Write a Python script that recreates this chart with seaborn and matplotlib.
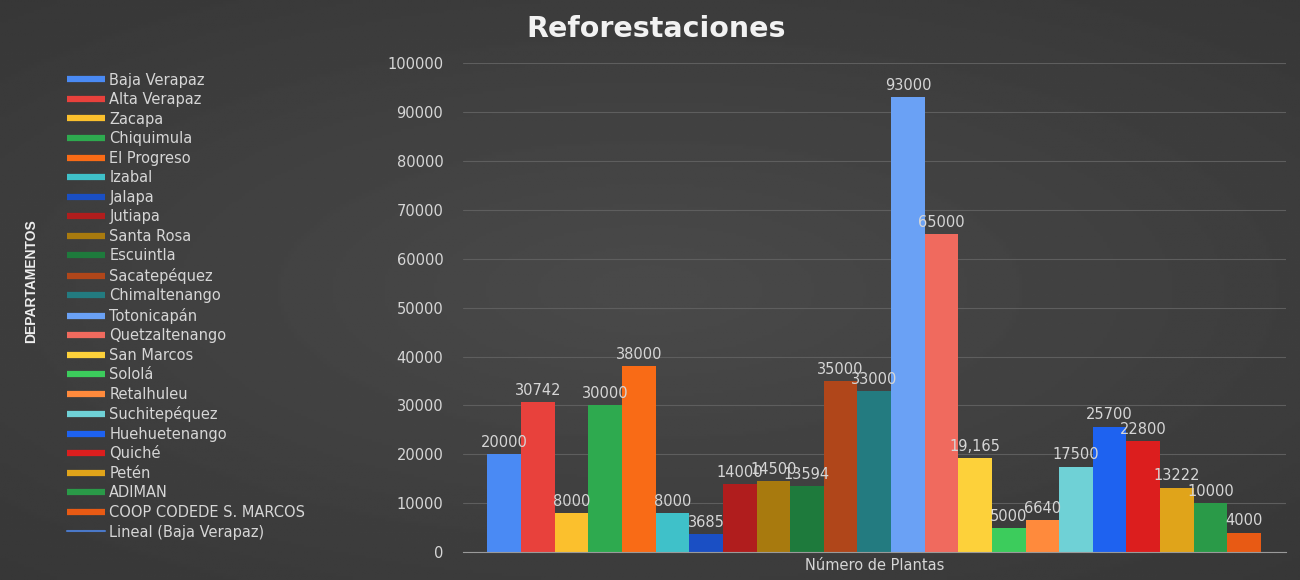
import matplotlib.pyplot as plt
import numpy as np
import pandas as pd
import seaborn as sns
from matplotlib.lines import Line2D

# --- Data ---
CATEGORY = "Número de Plantas"
departamentos = [
    "Baja Verapaz", "Alta Verapaz", "Zacapa", "Chiquimula", "El Progreso",
    "Izabal", "Jalapa", "Jutiapa", "Santa Rosa", "Escuintla", "Sacatepéquez",
    "Chimaltenango", "Totonicapán", "Quetzaltenango", "San Marcos", "Sololá",
    "Retalhuleu", "Suchitepéquez", "Huehuetenango", "Quiché", "Petén",
    "ADIMAN", "COOP CODEDE S. MARCOS",
]
plantas = [
    20000, 30742, 8000, 30000, 38000, 8000, 3685, 14000, 14500, 13594, 35000,
    33000, 93000, 65000, 19165, 5000, 6640, 17500, 25700, 22800, 13222,
    10000, 4000,
]
etiquetas = [
    "20000", "30742", "8000", "30000", "38000", "8000", "3685", "14000",
    "14500", "13594", "35000", "33000", "93000", "65000", "19,165", "5000",
    "6640", "17500", "25700", "22800", "13222", "10000", "4000",
]
colores = [
    "#4a8af4", "#e8413c", "#fbc02d", "#2eaa4f", "#f96b16", "#3fc1c9",
    "#1a4fc4", "#b01d1d", "#a87a0e", "#1e7a3c", "#b0461a", "#237b80",
    "#6aa1f5", "#f06a5e", "#fdd13a", "#3ccc5c", "#ff8a3c", "#6fd1d6",
    "#1e62f0", "#dc1e1e", "#e0a41a", "#2a9a48", "#e85a14",
]
trend_label = "Lineal (Baja Verapaz)"

# --- Style ---
BG = "#3c3c3c"
TEXT = "#d6d6d6"
sns.set_style("dark")
plt.rcParams["font.family"] = ["DejaVu Sans"]

df = pd.DataFrame({
    "categoria": [CATEGORY] * len(departamentos),
    "departamento": departamentos,
    "plantas": plantas,
})

fig = plt.figure(figsize=(13, 5.8), dpi=100, facecolor=BG)

# subtle radial background like the Excel dark theme
bg_ax = fig.add_axes([0, 0, 1, 1], zorder=-10)
yy, xx = np.mgrid[-1:1:200j, -1:1:400j]
r = np.sqrt((xx * 0.9) ** 2 + (yy * 1.0) ** 2)
bg_ax.imshow(0.29 - 0.055 * np.clip(r, 0, 1.4), cmap="gray", vmin=0, vmax=1,
             aspect="auto", extent=[0, 1, 0, 1])
bg_ax.axis("off")

ax = fig.add_axes([0.356, 0.048, 0.633, 0.843])
ax.set_facecolor("none")

sns.barplot(data=df, x="categoria", y="plantas", hue="departamento",
            hue_order=departamentos, palette=colores, width=0.94,
            saturation=1, linewidth=0, ax=ax, legend=False)

for cont, lab in zip(ax.containers, etiquetas):
    ax.bar_label(cont, labels=[lab], padding=3, color=TEXT, fontsize=10.5)

ax.set_ylim(0, 100000)
ax.set_yticks(range(0, 100001, 10000))
ax.set_xlim(-0.5, 0.5)
ax.grid(True, axis="y", color="#5e5e5e", linewidth=0.8)
ax.grid(False, axis="x")
ax.set_axisbelow(True)
for side in ["top", "right", "left"]:
    ax.spines[side].set_visible(False)
ax.spines["bottom"].set_color("#9a9a9a")
ax.tick_params(axis="both", length=0, colors=TEXT, labelsize=10.5)
ax.tick_params(axis="y", pad=14)
ax.tick_params(axis="x", pad=4)
ax.set_xlabel("")
ax.set_ylabel("")

# Title and side label
fig.text(0.505, 0.950, "Reforestaciones", ha="center", va="center",
         color="#f2f2f2", fontsize=20.5, fontweight="bold")
fig.text(0.024, 0.515, "DEPARTAMENTOS", rotation=90, ha="center", va="center",
         color="#eeeeee", fontsize=10, fontweight="bold",
         family=["Liberation Sans Narrow", "Liberation Sans", "DejaVu Sans"])

# Legend (Excel-style thick line handles)
handles = [Line2D([0], [0], color=c, lw=4.5, solid_capstyle="butt")
           for c in colores]
handles.append(Line2D([0], [0], color="#4a78c8", lw=1.5))
labels = departamentos + [trend_label]
leg = fig.legend(handles, labels, loc="upper left",
                 bbox_to_anchor=(0.047, 0.885), frameon=False, fontsize=10.5,
                 handlelength=2.6, handletextpad=0.3, labelspacing=0.31,
                 borderaxespad=0)
for t in leg.get_texts():
    t.set_color(TEXT)

fig.savefig("out.png", dpi=100, facecolor=BG)
